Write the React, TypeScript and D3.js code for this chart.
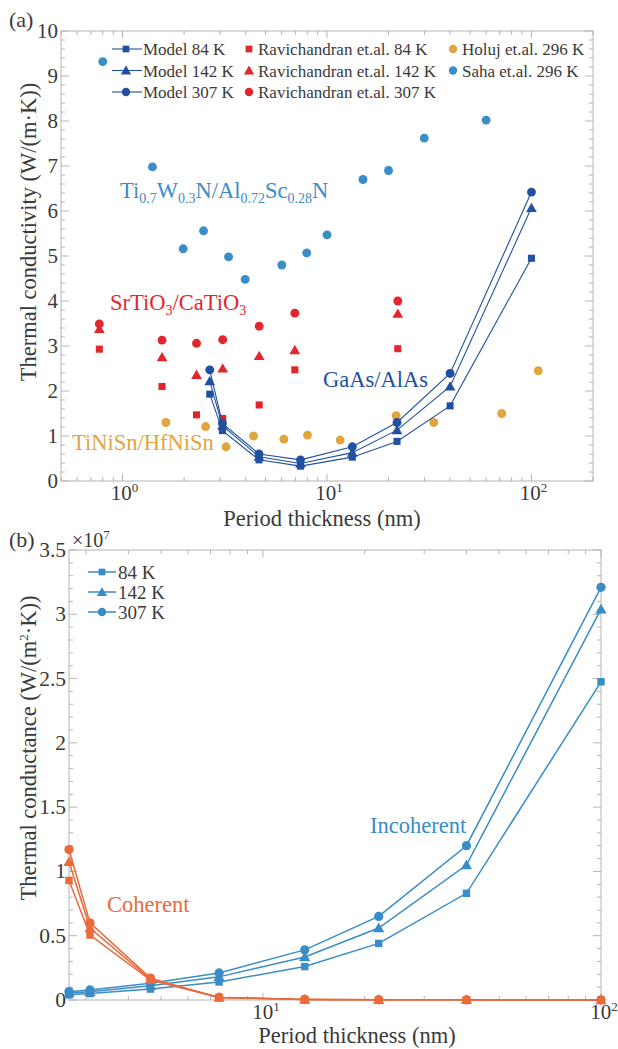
import * as d3 from 'd3';

// ---- panel (a) data: thermal conductivity, W/(m·K) ----
const modelX = [2.67, 3.08, 4.65, 7.42, 13.3, 22, 40, 100];
const model84 = [1.93, 1.12, 0.47, 0.33, 0.53, 0.88, 1.67, 4.95];
const model142 = [2.22, 1.23, 0.54, 0.39, 0.63, 1.13, 2.1, 6.07];
const model307 = [2.47, 1.28, 0.6, 0.47, 0.76, 1.3, 2.39, 6.42];

const raviX = [0.77, 1.56, 2.3, 3.09, 4.66, 6.96, 22.2];
const ravi84 = [2.93, 2.1, 1.47, 1.39, 1.69, 2.47, 2.94];
const ravi142 = [3.38, 2.75, 2.36, 2.5, 2.78, 2.91, 3.72];
const ravi307 = [3.49, 3.13, 3.06, 3.14, 3.44, 3.73, 4.0];

const holujX = [1.63, 2.55, 3.21, 4.37, 6.15, 8.03, 11.6, 21.8, 33.3, 71.6, 108];
const holujY = [1.3, 1.21, 0.76, 1.0, 0.93, 1.02, 0.91, 1.45, 1.3, 1.5, 2.45];

const sahaX = [0.8, 1.4, 1.98, 2.49, 3.3, 3.98, 6.01, 7.96, 10.0, 15.0, 20.0, 29.9, 60];
const sahaY = [9.32, 6.98, 5.16, 5.56, 4.98, 4.48, 4.8, 5.07, 5.47, 6.7, 6.9, 7.62, 8.02];

// ---- panel (b) data: thermal conductance, ×1e7 W/(m²·K) ----
const incoh84 = [0.04, 0.05, 0.085, 0.14, 0.26, 0.44, 0.83, 2.475];
const incoh142 = [0.055, 0.065, 0.11, 0.18, 0.335, 0.56, 1.05, 3.04];
const incoh307 = [0.065, 0.078, 0.13, 0.21, 0.39, 0.65, 1.2, 3.21];
const coh84 = [0.93, 0.505, 0.155, 0.02, 0.004, 0.002, 0.001, 0.0005];
const coh142 = [1.075, 0.56, 0.16, 0.02, 0.004, 0.002, 0.001, 0.0005];
const coh307 = [1.17, 0.6, 0.17, 0.02, 0.004, 0.002, 0.001, 0.0005];

const yTicksA = [0, 1, 2, 3, 4, 5, 6, 7, 8, 9, 10];
const yTicksB = [0, 0.5, 1, 1.5, 2, 2.5, 3, 3.5];

const MODEL = '#2150a0';
const RED = '#e3262b';
const GOLD = '#e0a53f';
const SAHA = '#3b8dc8';
const INC = '#3a8cc6';
const COH = '#ea6a3c';
const FRAME = '#b4b4b4';
const TXT = '#3a3a3a';
const FONT = "'Liberation Serif', 'Times New Roman', 'DejaVu Serif', serif";

type Shape = 'square' | 'triangle' | 'circle';
const symbolPath = (shape: Shape, size = 1) => {
  const t = shape === 'square' ? d3.symbolSquare : shape === 'triangle' ? d3.symbolTriangle : d3.symbolCircle;
  const area = shape === 'square' ? 50 : shape === 'triangle' ? 50 : 62;
  return d3.symbol().type(t).size(area * size)() ?? '';
};

const Marker = ({ x, y, shape, color, size = 1 }: { x: number; y: number; shape: Shape; color: string; size?: number }) => (
  <path
    d={symbolPath(shape, size)}
    transform={`translate(${x},${y + (shape === 'triangle' ? 1 : 0)})`}
    fill={color}
  />
);

function logMinor(lo: number, hi: number) {
  const out: number[] = [];
  for (let e = -1; e <= 2; e++) {
    for (let m = 1; m <= 9; m++) {
      const v = m * Math.pow(10, e);
      if (v >= lo - 1e-9 && v <= hi + 1e-9) out.push(v);
    }
  }
  return out;
}

function Frame({
  x,
  y,
  xMinor,
  yMinor,
  yMajor,
}: {
  x: d3.ScaleLogarithmic<number, number>;
  y: d3.ScaleLinear<number, number>;
  xMinor: number[];
  yMinor: number[];
  yMajor: number[];
}) {
  const [x0, x1] = x.range();
  const [y0, y1] = y.range();
  const isMajorX = (v: number) => Math.abs(Math.log10(v) - Math.round(Math.log10(v))) < 1e-6;
  return (
    <g stroke={FRAME} strokeWidth={1}>
      <rect x={x0} y={y1} width={x1 - x0} height={y0 - y1} fill="none" />
      {xMinor.map((v) => {
        const len = isMajorX(v) ? 7 : 4;
        return (
          <g key={`x${v}`}>
            <line x1={x(v)} x2={x(v)} y1={y0} y2={y0 - len} />
            <line x1={x(v)} x2={x(v)} y1={y1} y2={y1 + len} />
          </g>
        );
      })}
      {yMinor.map((v) => (
        <g key={`ym${v}`}>
          <line x1={x0} x2={x0 + 4} y1={y(v)} y2={y(v)} />
          <line x1={x1} x2={x1 - 4} y1={y(v)} y2={y(v)} />
        </g>
      ))}
      {yMajor.map((v) => (
        <g key={`yM${v}`}>
          <line x1={x0} x2={x0 + 8} y1={y(v)} y2={y(v)} />
          <line x1={x1} x2={x1 - 8} y1={y(v)} y2={y(v)} />
        </g>
      ))}
    </g>
  );
}

const Pow10 = ({ x, y, e }: { x: number; y: number; e: number }) => (
  <text x={x} y={y} textAnchor="middle" fontSize={21} fill={TXT}>
    10<tspan dy={-8} fontSize={13}>{e}</tspan>
  </text>
);

// chemical formula with subscripts: parts alternate normal / subscript
const Formula = ({ x, y, parts, color }: { x: number; y: number; parts: string[]; color: string }) => (
  <text x={x} y={y} fontSize={22.5} fill={color}>
    {parts.map((p, i) =>
      i % 2 === 0 ? (
        <tspan key={i} dy={i === 0 ? 0 : -5}>
          {p}
        </tspan>
      ) : (
        <tspan key={i} dy={5} fontSize={14}>
          {p}
        </tspan>
      ),
    )}
  </text>
);

export default function App() {
  // panel (a)
  const xA = d3.scaleLog().domain([0.5, 200]).range([61, 593]);
  const yA = d3.scaleLinear().domain([0, 10]).range([481, 31]);
  // panel (b)
  const xB = d3.scaleLog().domain([2.67, 100]).range([69, 601]);
  const yB = d3.scaleLinear().domain([0, 3.5]).range([1000, 550]);

  const lineA = d3
    .line<[number, number]>()
    .x((d) => xA(d[0]))
    .y((d) => yA(d[1]));
  const lineB = d3
    .line<[number, number]>()
    .x((d) => xB(d[0]))
    .y((d) => yB(d[1]));

  const zip = (xs: number[], ys: number[]) => xs.map((v, i) => [v, ys[i]] as [number, number]);

  const models: [number[], Shape][] = [
    [model84, 'square'],
    [model142, 'triangle'],
    [model307, 'circle'],
  ];
  const ravis: [number[], Shape][] = [
    [ravi84, 'square'],
    [ravi142, 'triangle'],
    [ravi307, 'circle'],
  ];
  const incs: [number[], Shape][] = [
    [incoh84, 'square'],
    [incoh142, 'triangle'],
    [incoh307, 'circle'],
  ];
  const cohs: [number[], Shape][] = [
    [coh84, 'square'],
    [coh142, 'triangle'],
    [coh307, 'circle'],
  ];

  const yMinorA = d3.range(0, 10.001, 0.2).filter((v) => Math.abs(v - Math.round(v)) > 1e-6);
  const yMinorB = d3.range(0, 3.5001, 0.1).filter((v) => Math.abs(v * 2 - Math.round(v * 2)) > 1e-6);

  const legendA = [
    { x: 126, y: 49, label: 'Model 84 K', shape: 'square' as Shape, color: MODEL, line: true },
    { x: 126, y: 70.5, label: 'Model 142 K', shape: 'triangle' as Shape, color: MODEL, line: true },
    { x: 126, y: 92, label: 'Model 307 K', shape: 'circle' as Shape, color: MODEL, line: true },
    { x: 249, y: 49, label: 'Ravichandran et.al. 84 K', shape: 'square' as Shape, color: RED, line: false },
    { x: 249, y: 70.5, label: 'Ravichandran et.al. 142 K', shape: 'triangle' as Shape, color: RED, line: false },
    { x: 249, y: 92, label: 'Ravichandran et.al. 307 K', shape: 'circle' as Shape, color: RED, line: false },
    { x: 453, y: 49, label: 'Holuj et.al. 296 K', shape: 'circle' as Shape, color: GOLD, line: false },
    { x: 453, y: 70.5, label: 'Saha et.al. 296 K', shape: 'circle' as Shape, color: SAHA, line: false },
  ];
  const legendB = [
    { y: 572, label: '84 K', shape: 'square' as Shape },
    { y: 592, label: '142 K', shape: 'triangle' as Shape },
    { y: 612, label: '307 K', shape: 'circle' as Shape },
  ];

  return (
    <div style={{ position: 'absolute', left: 0, top: 0 }}>
      <svg width={618} height={1049} viewBox="0 0 618 1049" style={{ display: 'block', background: '#fff', fontFamily: FONT }}>
        {/* ===== panel (a) ===== */}
        <text x={9} y={27} fontSize={22} fill={TXT}>(a)</text>
        <Frame x={xA} y={yA} xMinor={logMinor(0.5, 200)} yMinor={yMinorA} yMajor={yTicksA} />
        {yTicksA.map((t) => (
          <text key={t} x={58} y={yA(t) + 7} textAnchor="end" fontSize={21} fill={TXT}>
            {t}
          </text>
        ))}
        {[0, 1, 2].map((e) => (
          <Pow10 key={e} x={xA(Math.pow(10, e)) + 2} y={500} e={e} />
        ))}
        <text x={322} y={526} textAnchor="middle" fontSize={22.5} fill={TXT}>
          Period thickness (nm)
        </text>
        <text transform="translate(36,232) rotate(-90)" textAnchor="middle" fontSize={22.5} fill={TXT}>
          Thermal conductivity (W/(m·K))
        </text>

        {sahaX.map((v, i) => (
          <Marker key={`s${i}`} x={xA(v)} y={yA(sahaY[i])} shape="circle" color={SAHA} />
        ))}
        {holujX.map((v, i) => (
          <Marker key={`h${i}`} x={xA(v)} y={yA(holujY[i])} shape="circle" color={GOLD} />
        ))}
        {ravis.map(([ys, shape]) =>
          raviX.map((v, i) => <Marker key={`r${shape}${i}`} x={xA(v)} y={yA(ys[i])} shape={shape} color={RED} />),
        )}
        {models.map(([ys, shape]) => (
          <g key={`m${shape}`}>
            <path d={lineA(zip(modelX, ys)) ?? ''} fill="none" stroke={MODEL} strokeWidth={1.1} />
            {modelX.map((v, i) => (
              <Marker key={i} x={xA(v)} y={yA(ys[i])} shape={shape} color={MODEL} />
            ))}
          </g>
        ))}

        <Formula x={120} y={198} color={SAHA} parts={['Ti', '0.7', 'W', '0.3', 'N/Al', '0.72', 'Sc', '0.28', 'N']} />
        <Formula x={110} y={310} color={RED} parts={['SrTiO', '3', '/CaTiO', '3']} />
        <text x={72} y={450} fontSize={22.5} fill={GOLD}>
          TiNiSn/HfNiSn
        </text>
        <text x={323} y={387} fontSize={22.5} fill={MODEL}>
          GaAs/AlAs
        </text>

        {legendA.map((d) => (
          <g key={d.label}>
            {d.line && <line x1={112} x2={142} y1={d.y} y2={d.y} stroke={d.color} strokeWidth={1.1} />}
            <Marker x={d.x} y={d.y} shape={d.shape} color={d.color} size={0.9} />
            <text x={d.x + (d.line ? 17 : 9)} y={d.y + 6} fontSize={17} fill={TXT}>
              {d.label}
            </text>
          </g>
        ))}

        {/* ===== panel (b) ===== */}
        <text x={9} y={547} fontSize={22} fill={TXT}>(b)</text>
        <Frame x={xB} y={yB} xMinor={logMinor(2.67, 100)} yMinor={yMinorB} yMajor={yTicksB} />
        {yTicksB.map((t) => (
          <text key={t} x={66} y={yB(t) + 7} textAnchor="end" fontSize={21.5} fill={TXT}>
            {t}
          </text>
        ))}
        <text x={72} y={547} fontSize={20} fill={TXT}>
          ×10<tspan dy={-8} fontSize={13}>7</tspan>
        </text>
        {[1, 2].map((e) => (
          <Pow10 key={e} x={xB(Math.pow(10, e)) + 3} y={1019} e={e} />
        ))}
        <text x={357} y={1043} textAnchor="middle" fontSize={22.5} fill={TXT}>
          Period thickness (nm)
        </text>
        <text transform="translate(36,748) rotate(-90)" textAnchor="middle" fontSize={22.5} fill={TXT}>
          Thermal conductance (W/(m<tspan dy={-8} fontSize={13}>2</tspan>
          <tspan dy={8}>·K))</tspan>
        </text>

        {incs.map(([ys, shape]) => (
          <g key={`i${shape}`}>
            <path d={lineB(zip(modelX, ys)) ?? ''} fill="none" stroke={INC} strokeWidth={1.5} />
            {modelX.map((v, i) => (
              <Marker key={i} x={xB(v)} y={yB(ys[i])} shape={shape} color={INC} size={1.1} />
            ))}
          </g>
        ))}
        {cohs.map(([ys, shape]) => (
          <g key={`c${shape}`}>
            <path d={lineB(zip(modelX, ys)) ?? ''} fill="none" stroke={COH} strokeWidth={1.5} />
            {modelX.map((v, i) => (
              <Marker key={i} x={xB(v)} y={yB(ys[i])} shape={shape} color={COH} size={1.1} />
            ))}
          </g>
        ))}

        <text x={370} y={833} fontSize={22.5} fill={INC}>
          Incoherent
        </text>
        <text x={107} y={912} fontSize={22.5} fill={COH}>
          Coherent
        </text>

        {legendB.map((d) => (
          <g key={d.label}>
            <line x1={88} x2={116} y1={d.y} y2={d.y} stroke={INC} strokeWidth={1.5} />
            <Marker x={102} y={d.y} shape={d.shape} color={INC} size={0.9} />
            <text x={118} y={d.y + 6.5} fontSize={19} fill={TXT}>
              {d.label}
            </text>
          </g>
        ))}
      </svg>
    </div>
  );
}
